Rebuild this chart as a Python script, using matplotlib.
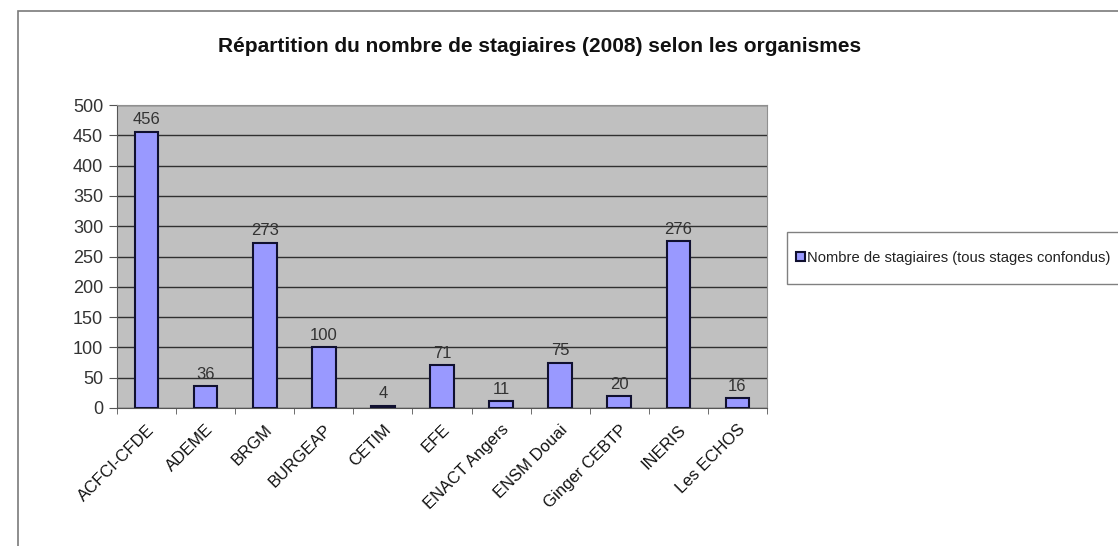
import numpy as np
import matplotlib
matplotlib.use("Agg")
import matplotlib.pyplot as plt
from matplotlib.patches import Rectangle

organismes = ["ACFCI-CFDE", "ADEME", "BRGM", "BURGEAP", "CETIM", "EFE",
              "ENACT Angers", "ENSM Douai", "Ginger CEBTP", "INERIS", "Les ECHOS"]
stagiaires = [456, 36, 273, 100, 4, 71, 11, 75, 20, 276, 16]
yticks = [0, 50, 100, 150, 200, 250, 300, 350, 400, 450, 500]

plt.rcParams['font.family'] = ['Liberation Sans', 'DejaVu Sans']

fig = plt.figure(figsize=(11.18, 5.46), dpi=100)
fig.patch.set_facecolor("white")

# cadre exterieur (coupe a droite et en bas)
fig.patches.append(Rectangle((18/1118, -0.1), 1.2, 1 - 11/546 + 0.1,
                             transform=fig.transFigure, fill=False,
                             edgecolor="#7a7a7a", linewidth=1.2))
# cadre de la legende (depasse a droite)
fig.patches.append(Rectangle((787/1118, 1 - 284/546), 0.4, 52/546,
                             transform=fig.transFigure, facecolor="white",
                             edgecolor="#808080", linewidth=1.0))

ax = fig.add_axes([117/1118, 1 - 408/546, 650/1118, 303/546])
ax.set_facecolor("#c0c0c0")

x = np.arange(len(organismes))
barres = ax.bar(x, stagiaires, width=0.4, color="#9999ff", edgecolor="#101030",
                linewidth=1.5, zorder=3, label="Nombre de stagiaires (tous stages confondus)")

for xi, v in zip(x, stagiaires):
    ax.text(xi, v + 7, str(v), ha="center", va="bottom", fontsize=12, color="#333333", zorder=4)

ax.set_xlim(-0.5, len(organismes) - 0.5)
ax.set_ylim(0, 500)
ax.set_yticks(yticks)
ax.yaxis.grid(True, color="#303030", linewidth=1.0, zorder=1)
ax.set_axisbelow(True)

ax.set_xticks(x)
ax.set_xticklabels(organismes, rotation=45, ha="right", rotation_mode="anchor", fontsize=12,
                   color="#111111")
ax.set_xticks(np.arange(len(organismes) + 1) - 0.5, minor=True)
ax.tick_params(axis="x", which="major", length=0, pad=10)
ax.tick_params(axis="x", which="minor", length=4, color="#555555")
ax.tick_params(axis="y", length=6, labelsize=13, color="#555555", labelcolor="#333333", pad=4)

for s in ["top", "right"]:
    ax.spines[s].set_color("#909090")
ax.spines["left"].set_color("#555555")
ax.spines["bottom"].set_color("#555555")

fig.text(540/1118, 1 - 47/546, "Répartition du nombre de stagiaires (2008) selon les organismes",
         ha="center", va="center", fontsize=15, fontweight="bold", color="#111111")

leg = fig.legend(handles=[barres], loc="center left",
                 bbox_to_anchor=(796/1118, 1 - 258/546),
                 fontsize=10.6, frameon=False, borderpad=0,
                 handlelength=0.6, handleheight=0.6, handletextpad=0.12, borderaxespad=0)
for t in leg.get_texts():
    t.set_color("#222222")

fig.savefig("out.png", dpi=100)
